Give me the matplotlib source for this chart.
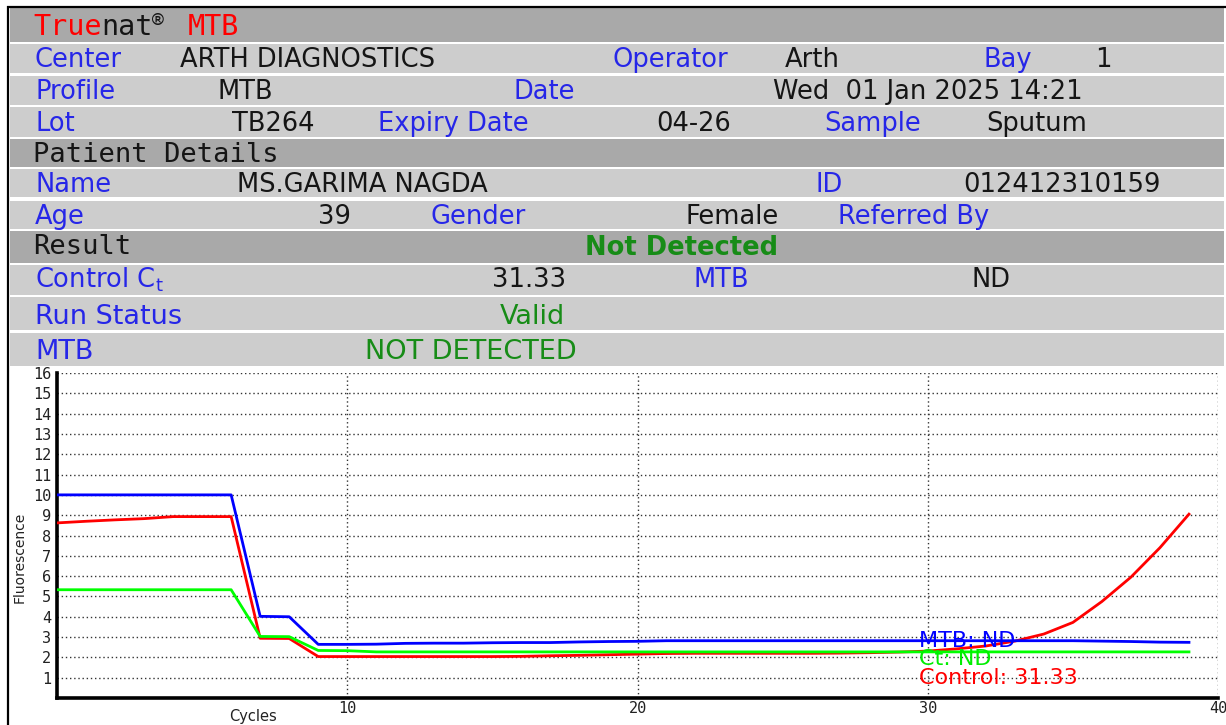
import numpy as np
import matplotlib
matplotlib.use("Agg")
import matplotlib.pyplot as plt
from matplotlib.patches import Rectangle

# ---------------- data ----------------
cycles = np.arange(0, 40)
mtb_fluor = [10.0] * 7 + [4.02, 4.0] + \
    [2.64, 2.64, 2.65, 2.69, 2.70, 2.70, 2.72, 2.73, 2.73, 2.76, 2.78, 2.79] + \
    [2.82] * 15 + [2.80, 2.78, 2.75, 2.74]
ct_fluor = [5.33] * 7 + [3.03, 3.02, 2.34, 2.33] + [2.27] * 29
control_fluor = [8.62, 8.70, 8.77, 8.83, 8.93, 8.93, 8.93, 2.94, 2.93] + [2.04] * 7 + \
    [2.05, 2.08, 2.10, 2.13, 2.16, 2.19, 2.2, 2.2, 2.2, 2.2, 2.2, 2.21, 2.23, 2.26] + \
    [2.31, 2.42, 2.56, 2.80, 3.15, 3.72, 4.75, 5.95, 7.40, 9.05]

y_ticks = list(range(1, 17))
x_ticks = [10, 20, 30, 40]
annot_texts = ["MTB: ND", "Ct: ND", "Control: 31.33"]

# header content
center_row = ["Center", "ARTH DIAGNOSTICS", "Operator", "Arth", "Bay", "1"]
profile_row = ["Profile", "MTB", "Date", "Wed  01 Jan 2025 14:21"]
lot_row = ["Lot", "TB264", "Expiry Date", "04-26", "Sample", "Sputum"]
name_row = ["Name", "MS.GARIMA NAGDA", "ID", "012412310159"]
age_row = ["Age", "39", "Gender", "Female", "Referred By"]
control_row = [r"Control C$_\mathregular{t}$", "31.33", "MTB", "ND"]
run_row = ["Run Status", "Valid"]
mtb_row = ["MTB", "NOT DETECTED"]
result_text = "Not Detected"

# ---------------- style ----------------
W, H, DPI = 1226, 725, 100
BLUE_T = "#2626e8"
BLACK_T = "#151515"
GREEN_T = "#178c17"
RED_T = "#ff0000"
DARK = "#a9a9a9"
LIGHT = "#cdcdcd"
SANS = "DejaVu Sans"
MONO = "DejaVu Sans Mono"

fig = plt.figure(figsize=(W / DPI, H / DPI), dpi=DPI)
bg = fig.add_axes([0, 0, 1, 1])
bg.set_xlim(0, W)
bg.set_ylim(H, 0)
bg.axis("off")

rows = [(8, 41.7, DARK), (43.5, 72.7, LIGHT), (75.7, 104.5, LIGHT), (107.3, 137, LIGHT),
        (139, 167, DARK), (168.5, 197, LIGHT), (200.5, 229, LIGHT), (231, 262.7, DARK),
        (265.3, 294.5, LIGHT), (297.3, 330, LIGHT), (333.3, 366, LIGHT)]
for top, bot, col in rows:
    bg.add_patch(Rectangle((10, top), 1214, bot - top, facecolor=col, edgecolor="none"))

# frame lines
bg.plot([7.5, 7.5], [6, H], color="black", lw=1.6, solid_capstyle="butt")
bg.plot([6.5, W], [7, 7], color="black", lw=1.6, solid_capstyle="butt")

FS = 18.5


def put(x, y, s, color, size=FS, family=SANS, weight="normal"):
    bg.text(x, y, s, color=color, fontsize=size, family=family, weight=weight,
            ha="left", va="baseline")


# title (monospace pieces)
TS = 20.5
adv = 0.602 * TS * DPI / 72.0
tx = 33
put(tx, 35, "True", RED_T, TS, MONO)
put(tx + 4 * adv, 35, "nat", BLACK_T, TS, MONO)
put(tx + 7 * adv - 1, 26, "®", BLACK_T, 14, MONO)
put(tx + 9 * adv, 35, "MTB", RED_T, TS, MONO)

cols_c = [(35, BLUE_T), (180, BLACK_T), (612, BLUE_T), (785, BLACK_T), (984, BLUE_T), (1095, BLACK_T)]
for (x, c), s in zip(cols_c, center_row):
    put(x, 67, s, c)
cols_p = [(35, BLUE_T), (218, BLACK_T), (513, BLUE_T), (773, BLACK_T)]
for (x, c), s in zip(cols_p, profile_row):
    put(x, 99, s, c)
cols_l = [(35, BLUE_T), (232, BLACK_T), (378, BLUE_T), (656, BLACK_T), (824, BLUE_T), (986, BLACK_T)]
for (x, c), s in zip(cols_l, lot_row):
    put(x, 131, s, c)
put(33, 161.5, "Patient Details", BLACK_T, 19.5, MONO)
cols_n = [(35, BLUE_T), (237, BLACK_T), (815, BLUE_T), (963, BLACK_T)]
for (x, c), s in zip(cols_n, name_row):
    put(x, 192, s, c)
cols_a = [(35, BLUE_T), (318, BLACK_T), (431, BLUE_T), (686, BLACK_T), (838, BLUE_T)]
for (x, c), s in zip(cols_a, age_row):
    put(x, 223.5, s, c)
put(33, 253.5, "Result", BLACK_T, 19.5, MONO)
put(585, 255, result_text, GREEN_T, FS, SANS, "bold")
cols_ct = [(35, BLUE_T), (492, BLACK_T), (693, BLUE_T), (971, BLACK_T)]
for (x, c), s in zip(cols_ct, control_row):
    put(x, 287, s, c)
put(35, 323.5, run_row[0], BLUE_T, 19.5)
put(500, 323.5, run_row[1], GREEN_T, 19.5)
put(35, 358.5, mtb_row[0], BLUE_T, 19.5)
put(365, 358.5, mtb_row[1], GREEN_T, 19.5)

# ---------------- chart ----------------
L, R, B, T = 57, 1218, 698, 373
ax = fig.add_axes([L / W, 1 - B / H, (R - L) / W, (B - T) / H])
ax.patch.set_alpha(0)
ax.set_xlim(0, 40)
ax.set_ylim(0, 16)

ax.plot(cycles, control_fluor, color="#ff0000", lw=2.0, zorder=3)
ax.plot(cycles, ct_fluor, color="#00ff00", lw=2.0, zorder=4)
ax.plot(cycles, mtb_fluor, color="#0000ff", lw=2.0, zorder=5)

ax.set_xticks(x_ticks)
ax.set_yticks(y_ticks)
ax.grid(True, linestyle=(0, (1, 2)), color="#333333", lw=1.0)
ax.set_axisbelow(True)
for side in ("top", "right"):
    ax.spines[side].set_visible(False)
for side in ("left", "bottom"):
    ax.spines[side].set_linewidth(2.6)
    ax.spines[side].set_color("black")
ax.tick_params(axis="both", length=0, labelsize=11, labelcolor="#222222")
ax.tick_params(axis="y", pad=4)
ax.tick_params(axis="x", pad=2)
for lab in ax.get_xticklabels() + ax.get_yticklabels():
    lab.set_family(MONO)

ax.set_xlabel("Cycles", fontsize=10.5, family=SANS, color="#222222")
ax.xaxis.set_label_coords((253 - L) / (R - L), (B - 709) / (B - T))
ax.set_ylabel("Fluorescence", fontsize=10, family=["Liberation Sans Narrow", "DejaVu Sans"],
              color="#222222")
ax.yaxis.set_label_coords((27 - L) / (R - L), (B - 557) / (B - T))

annot_colors = ["#0000ff", "#00ee00", "#ff0000"]
annot_y = [2.53, 1.62, 0.69]
for s, c, yv in zip(annot_texts, annot_colors, annot_y):
    ax.text(29.7, yv, s, color=c, fontsize=16, family=SANS, va="baseline", ha="left", zorder=6)

fig.savefig("out.png", dpi=DPI)
